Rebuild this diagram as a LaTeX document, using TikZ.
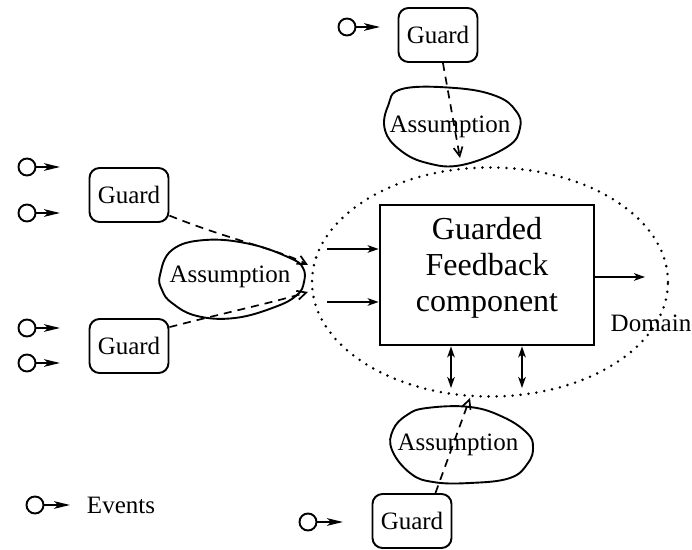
\documentclass[tikz,border=0pt]{standalone}
\usepackage{fontspec}
\setmainfont{Liberation Serif}
\usetikzlibrary{arrows.meta,shapes.geometric}
\begin{document}
\begin{tikzpicture}[x=0.5pt,y=-0.5pt,
  guardbox/.style={draw, rounded corners=5pt, line width=0.95pt, minimum width=39.5pt,
    minimum height=27pt, inner sep=0pt, font=\fontsize{12.5}{14}\selectfont},
  evt/.style={draw, circle, minimum size=8.5pt, inner sep=0pt, line width=0.95pt},
  evarrow/.style={line width=0.95pt, -{Stealth[length=8pt,width=3.8pt,inset=2pt]}},
  lbl/.style={font=\fontsize{12.5}{14}\selectfont, inner sep=0pt},
  blob/.style={line width=0.95pt},
  flow/.style={line width=0.85pt, -{Stealth[length=5.5pt,width=3.8pt,inset=1.5pt]}},
  biflow/.style={line width=0.85pt, {Stealth[length=5.5pt,width=3.8pt,inset=1.5pt]}-{Stealth[length=5.5pt,width=3.8pt,inset=1.5pt]}},
  guardlink/.style={dash pattern=on 4pt off 3pt, line width=0.85pt,
    -{Straight Barb[length=4.5pt,width=4.5pt]}},
  envelope/.style={draw, ellipse, line width=1.4pt, line cap=round,
    dash pattern=on 0pt off 4pt, inner sep=0pt}
]
\useasboundingbox (0,0) rectangle (692,550);

% environment boundary and the feedback component
\node[envelope, minimum width=178pt, minimum height=114.5pt] (env) at (490,282) {};
\node[draw, line width=1.4pt, minimum width=107pt, minimum height=70pt, inner sep=0pt] (fb) at (487,275) {};
\node[align=center, inner sep=0pt, font=\fontsize{16}{18}\selectfont] (fbt) at (487,268) {Guarded\\Feedback\\component};
\node[lbl] (dom) at (651,323) {Domain};

% inputs, output and bidirectional links of the component
\coordinate (in1) at (327,249);
\coordinate (in2) at (327,302);
\coordinate (out) at (645,277);
\coordinate (bd1) at (451,388);
\coordinate (bd2) at (522,388);
\draw[flow] (in1) -- (in1 -| fb.west);
\draw[flow] (in2) -- (in2 -| fb.west);
\draw[flow] (out -| fb.east) -- (out);
\draw[biflow] (bd1 |- fb.south) -- (bd1);
\draw[biflow] (bd2 |- fb.south) -- (bd2);

% assumptions
\draw[blob] plot[smooth cycle, tension=0.7] coordinates {(402,89) (455,88) (496,96) (516,111) (520,128) (507,147) (462,165) (427,163) (400,150) (385,130) (388,106)};
\node[lbl] (asT) at (450,127) {Assumption};
\draw[blob] plot[smooth cycle, tension=0.7] coordinates {(160,275) (172,250) (205,240) (250,244) (290,258) (303,268) (304,282) (297,295) (275,307) (235,318) (197,316) (172,303) (162,290)};
\node[lbl] (asL) at (230,277) {Assumption};
\draw[blob] plot[smooth cycle, tension=0.7] coordinates {(427,408) (470,407) (503,417) (527,433) (533,447) (528,463) (510,478) (470,483) (433,482) (410,473) (392,450) (393,430) (407,415)};
\node[lbl] (asB) at (458,445) {Assumption};

% guards
\node[guardbox] (gT) at (438,35) {Guard};
\node[guardbox] (gL1) at (129,195) {Guard};
\node[guardbox] (gL2) at (129,346) {Guard};
\node[guardbox] (gB) at (412,521) {Guard};

% guard links into the environment boundary
\coordinate (tT) at (460,158);
\coordinate (tL1) at (308,265);
\coordinate (tL2) at (308,292);
\coordinate (tB) at (470,398);
\draw[guardlink] (gT.-80) -- (tT);
\draw[guardlink] (gL1.-27) .. controls (230,240) and (280,250) .. (tL1);
\draw[guardlink] (gL2.25) .. controls (220,314) and (275,302) .. (tL2);
\draw[guardlink] (gB.50) -- (tB);

% events
\node[evt] (eT) at (347,27) {};
\coordinate (eTa) at (380,27);
\draw[evarrow] (eT) -- (eTa);
\node[evt] (e1) at (27,167) {};
\node[evt] (e2) at (27,213) {};
\node[evt] (e3) at (27,328) {};
\node[evt] (e4) at (27,363) {};
\coordinate (e1a) at (60,167);
\coordinate (e2a) at (60,213);
\coordinate (e3a) at (60,328);
\coordinate (e4a) at (60,363);
\draw[evarrow] (e1) -- (e1a);
\draw[evarrow] (e2) -- (e2a);
\draw[evarrow] (e3) -- (e3a);
\draw[evarrow] (e4) -- (e4a);
\node[evt] (eB) at (308,522) {};
\coordinate (eBa) at (343,522);
\draw[evarrow] (eB) -- (eBa);

% legend
\node[evt] (eL) at (35,505) {};
\coordinate (eLa) at (70,505);
\draw[evarrow] (eL) -- (eLa);
\node[lbl] (evtxt) at (121,505) {Events};
\end{tikzpicture}
\end{document}
